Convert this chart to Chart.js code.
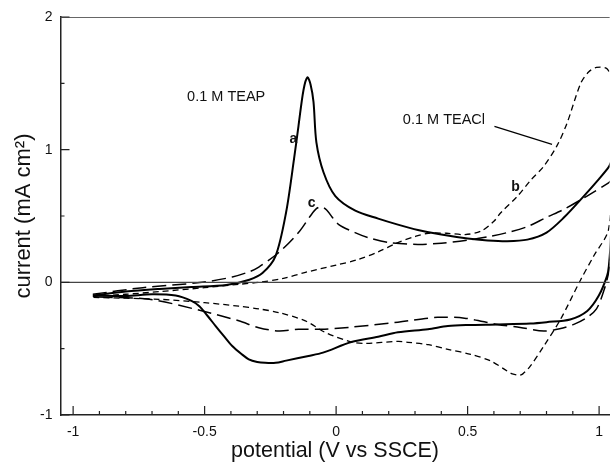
<!DOCTYPE html>
<html lang="en">
<head>
<meta charset="UTF-8" />
<title>Cyclic voltammograms</title>
<script src="https://cdn.jsdelivr.net/npm/chart.js"></script>
<style>
  body { margin: 0; background: #fff; }
  #wrap { width: 612px; height: 464px; }
</style>
</head>
<body>
<div id="wrap"><canvas id="cv" width="612" height="464"></canvas></div>
<script>
// curve a, 0.1 M TEAP (solid): forward sweep then reverse
const aX = [-0.925, -0.80, -0.672, -0.55, -0.418, -0.33, -0.28, -0.23, -0.19, -0.16, -0.143, -0.124, -0.109, -0.097, -0.086, -0.075, -0.048, -0.003, 0.073, 0.16, 0.235, 0.311, 0.40, 0.50, 0.576, 0.65, 0.727, 0.80, 0.867, 0.942, 1.0, 1.037, 1.05, 1.045,
  1.037, 1.03, 0.999, 0.955, 0.89, 0.80, 0.739, 0.614, 0.50, 0.425, 0.349, 0.235, 0.16, 0.058, -0.05, -0.105, -0.19, -0.23, -0.27, -0.30, -0.332, -0.36, -0.395, -0.425, -0.458, -0.49, -0.52, -0.55, -0.61, -0.70, -0.80, -0.925];
const aY = [-0.10, -0.07, -0.05, -0.035, -0.02, 0.02, 0.07, 0.20, 0.53, 0.93, 1.18, 1.45, 1.545, 1.49, 1.36, 1.055, 0.83, 0.65, 0.54, 0.48, 0.435, 0.395, 0.36, 0.33, 0.316, 0.31, 0.322, 0.375, 0.49, 0.65, 0.78, 0.87, 0.92, 0.35,
  0.12, 0.047, -0.10, -0.216, -0.28, -0.30, -0.31, -0.317, -0.322, -0.33, -0.354, -0.377, -0.41, -0.45, -0.53, -0.555, -0.59, -0.607, -0.607, -0.60, -0.58, -0.54, -0.48, -0.41, -0.33, -0.25, -0.18, -0.14, -0.10, -0.09, -0.103, -0.10];

// curve b, 0.1 M TEACl (short dashes)
const bX = [-0.925, -0.80, -0.672, -0.50, -0.37, -0.294, -0.20, -0.117, 0.0, 0.08, 0.16, 0.235, 0.30, 0.35, 0.42, 0.49, 0.55, 0.60, 0.626, 0.69, 0.74, 0.79, 0.84, 0.878, 0.93, 0.96, 0.99, 1.03, 1.05, 1.048,
  1.036, 0.98, 0.93, 0.853, 0.79, 0.739, 0.71, 0.696, 0.67, 0.65, 0.588, 0.512, 0.425, 0.35, 0.273, 0.235, 0.11, 0.058, -0.042, -0.117, -0.218, -0.294, -0.37, -0.50, -0.672, -0.925];
const bY = [-0.105, -0.09, -0.07, -0.04, -0.015, 0.0, 0.03, 0.075, 0.13, 0.17, 0.23, 0.30, 0.345, 0.37, 0.37, 0.36, 0.385, 0.46, 0.525, 0.65, 0.77, 0.876, 1.03, 1.20, 1.50, 1.585, 1.62, 1.61, 1.50, 0.9,
  0.40, 0.20, 0.02, -0.28, -0.48, -0.63, -0.69, -0.70, -0.69, -0.668, -0.593, -0.543, -0.505, -0.47, -0.452, -0.445, -0.46, -0.45, -0.377, -0.29, -0.228, -0.20, -0.18, -0.153, -0.128, -0.113];

// curve c (long dashes)
const cX = [-0.925, -0.735, -0.51, -0.395, -0.33, -0.294, -0.218, -0.143, -0.098, -0.075, -0.055, -0.036, 0.009, 0.072, 0.122, 0.20, 0.311, 0.40, 0.50, 0.58, 0.651, 0.727, 0.80, 0.866, 0.954, 1.036, 1.05, 1.048,
  1.036, 1.02, 0.99, 0.95, 0.904, 0.85, 0.79, 0.70, 0.614, 0.488, 0.386, 0.235, 0.046, -0.055, -0.143, -0.218, -0.294, -0.37, -0.508, -0.71, -0.925];
const cY = [-0.09, -0.04, 0.0, 0.04, 0.08, 0.115, 0.225, 0.375, 0.50, 0.555, 0.57, 0.545, 0.437, 0.375, 0.337, 0.30, 0.286, 0.295, 0.318, 0.345, 0.375, 0.42, 0.49, 0.55, 0.65, 0.75, 0.77, 0.3,
  0.075, -0.05, -0.20, -0.27, -0.317, -0.35, -0.367, -0.34, -0.317, -0.27, -0.264, -0.30, -0.34, -0.354, -0.354, -0.367, -0.342, -0.29, -0.216, -0.128, -0.11];

// leader line from the TEACl label to curve b
const leadX = [0.602, 0.821];
const leadY = [1.176, 1.04];

const xTicks = [-1, -0.5, 0, 0.5, 1];
const yTicks = [-1, 0, 1, 2];
const xMinor = [-0.9, -0.8, -0.7, -0.6, -0.4, -0.3, -0.2, -0.1, 0.1, 0.2, 0.3, 0.4, 0.6, 0.7, 0.8, 0.9];
const yMinor = [-0.5, 0.5, 1.5];

const FONT = "'Liberation Sans', Arial, sans-serif";
const pts = (xs, ys) => xs.map((x, i) => ({ x: x, y: ys[i] }));

// frame: top line, zero line, inward ticks, curve labels
const frame = {
  id: 'frame',
  afterDatasetsDraw(chart) {
    const { ctx, chartArea: ca, scales: { x, y } } = chart;
    ctx.save();
    ctx.strokeStyle = '#666';
    ctx.lineWidth = 1.2;
    ctx.beginPath();
    ctx.moveTo(ca.left, ca.top + 0.5);
    ctx.lineTo(ca.right, ca.top + 0.5);
    ctx.stroke();
    ctx.strokeStyle = '#444';
    ctx.lineWidth = 1.3;
    const y0 = y.getPixelForValue(0);
    ctx.beginPath();
    ctx.moveTo(ca.left, y0);
    ctx.lineTo(ca.right, y0);
    ctx.stroke();

    ctx.strokeStyle = '#222';
    ctx.lineWidth = 1.2;
    ctx.beginPath();
    xTicks.forEach(v => { const p = x.getPixelForValue(v); ctx.moveTo(p, ca.bottom); ctx.lineTo(p, ca.bottom - 9); });
    xMinor.forEach(v => { const p = x.getPixelForValue(v); ctx.moveTo(p, ca.bottom); ctx.lineTo(p, ca.bottom - 4); });
    yTicks.forEach(v => { const p = y.getPixelForValue(v); ctx.moveTo(ca.left, p); ctx.lineTo(ca.left + 9, p); });
    yMinor.forEach(v => { const p = y.getPixelForValue(v); ctx.moveTo(ca.left, p); ctx.lineTo(ca.left + 4, p); });
    ctx.stroke();

    ctx.fillStyle = '#111';
    ctx.textAlign = 'center';
    ctx.textBaseline = 'middle';
    ctx.font = '14.5px ' + FONT;
    ctx.fillText('0.1 M TEAP', x.getPixelForValue(-0.418), y.getPixelForValue(1.40));
    ctx.fillText('0.1 M TEACl', x.getPixelForValue(0.41), y.getPixelForValue(1.22));
    ctx.font = 'bold 14px ' + FONT;
    ctx.fillText('a', x.getPixelForValue(-0.162), y.getPixelForValue(1.08));
    ctx.fillText('b', x.getPixelForValue(0.682), y.getPixelForValue(0.716));
    ctx.fillText('c', x.getPixelForValue(-0.093), y.getPixelForValue(0.60));
    ctx.restore();
  }
};

const lineSet = (data, width, dash) => ({
  data: data,
  showLine: true,
  borderColor: '#000',
  borderWidth: width,
  borderDash: dash,
  pointRadius: 0,
  tension: 0.3,
  fill: false
});

new Chart(document.getElementById('cv'), {
  type: 'scatter',
  data: {
    datasets: [
      lineSet(pts(aX, aY), 2, []),
      lineSet(pts(bX, bY), 1.3, [6, 4]),
      lineSet(pts(cX, cY), 1.5, [14, 6]),
      Object.assign(lineSet(pts(leadX, leadY), 1.2, []), { tension: 0 })
    ]
  },
  options: {
    responsive: false,
    animation: false,
    layout: { padding: { top: 17, right: 0, left: 0, bottom: 0 } },
    plugins: { legend: { display: false }, tooltip: { enabled: false } },
    scales: {
      x: {
        type: 'linear',
        min: -1.048,
        max: 1.04,
        afterBuildTicks: s => { s.ticks = xTicks.map(v => ({ value: v })); },
        afterFit: s => { s.height = 49; },
        grid: { display: false, drawTicks: false },
        border: { display: true, color: '#222', width: 1.5 },
        ticks: { padding: 9, color: '#111', font: { family: FONT, size: 14 }, callback: v => String(v) },
        title: { display: true, text: 'potential (V vs SSCE)', color: '#111', font: { family: FONT, size: 21.5 }, padding: { top: 0, bottom: 0 } }
      },
      y: {
        type: 'linear',
        min: -1,
        max: 2,
        afterBuildTicks: s => { s.ticks = yTicks.map(v => ({ value: v })); },
        afterFit: s => { s.width = 60.5; },
        grid: { display: false, drawTicks: false },
        border: { display: true, color: '#222', width: 1.5 },
        ticks: { padding: 8, color: '#111', font: { family: FONT, size: 14 }, callback: v => String(v) },
        title: { display: true, text: 'current (mA cm²)', color: '#111', font: { family: FONT, size: 22 }, padding: { top: 11, bottom: 0 } }
      }
    }
  },
  plugins: [frame]
});
</script>
</body>
</html>
